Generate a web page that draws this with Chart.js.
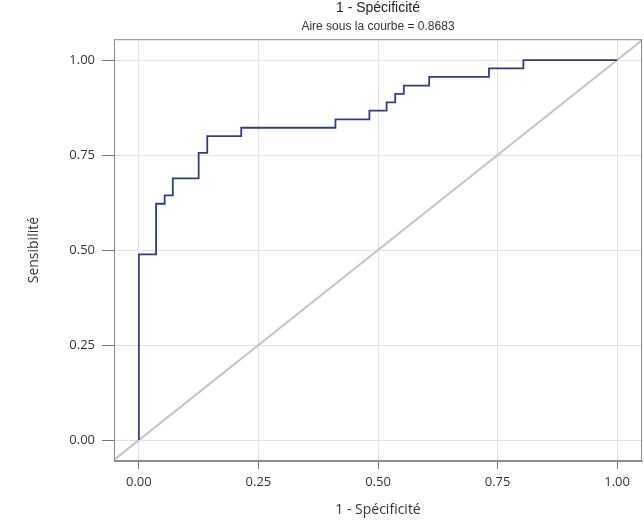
<!DOCTYPE html>
<html>
<head>
<meta charset="utf-8">
<script src="https://cdn.jsdelivr.net/npm/chart.js@4"></script>
<style>
  html, body { margin: 0; padding: 0; background: #fff; }
  #wrap { width: 644px; height: 520px; }
</style>
</head>
<body>
<div id="wrap"><canvas id="roc"></canvas></div>
<script>
// ROC curve points (1 - specificity, sensitivity)
const fpr = [0.000, 0.000, 0.036, 0.054, 0.071, 0.125, 0.143, 0.214, 0.411, 0.482, 0.518, 0.536, 0.554, 0.607, 0.732, 0.804, 1.000];
const tpr = [0.000, 0.489, 0.622, 0.644, 0.689, 0.756, 0.800, 0.822, 0.844, 0.867, 0.889, 0.911, 0.933, 0.956, 0.978, 1.000, 1.000];
const diagX = [-0.06, 1.06];
const tickVals = [0, 0.25, 0.5, 0.75, 1];
const titleText = '1 - Spécificité';
const subtitleText = 'Aire sous la courbe = 0.8683';

const frame = {
    id: 'frame',
    afterDraw(chart) {
        const a = chart.chartArea, ctx = chart.ctx;
        ctx.save();
        ctx.strokeStyle = '#8c8c8c';
        ctx.lineWidth = 1;
        ctx.strokeRect(a.left + 0.5, a.top + 0.5, a.right - a.left - 1, a.bottom - a.top - 1);
        ctx.restore();
    }
};

const fixTicks = axis => { axis.ticks = tickVals.map(v => ({ value: v })); };

const tickFont = { family: 'Open Sans', size: 13 };

new Chart('roc', {
    type: 'scatter',
    data: {
        datasets: [{
            data: fpr.map((x, i) => ({ x: x, y: tpr[i] })),
            showLine: true,
            stepped: true,
            borderColor: '#2e3f7c',
            borderWidth: 1.8,
            pointRadius: 0,
            fill: false
        }, {
            data: diagX.map(x => ({ x: x, y: x })),
            showLine: true,
            borderColor: '#c4c4c4',
            borderWidth: 2,
            pointRadius: 0,
            fill: false
        }]
    },
    options: {
        animation: false,
        responsive: true,
        maintainAspectRatio: false,
        layout: { padding: { left: 0, right: 2, top: 0, bottom: 0 } },
        plugins: {
            legend: { display: false },
            tooltip: { enabled: false },
            title: {
                display: true,
                text: titleText,
                fullSize: false,
                color: '#222',
                font: { family: 'Liberation Sans', size: 14, weight: 'normal' },
                padding: { top: 0, bottom: 0 }
            },
            subtitle: {
                display: true,
                text: subtitleText,
                fullSize: false,
                color: '#333',
                font: { family: 'Liberation Sans', size: 12 },
                padding: { top: 3, bottom: 5 }
            }
        },
        scales: {
            x: {
                type: 'linear',
                min: -0.052,
                max: 1.052,
                afterBuildTicks: fixTicks,
                afterFit: s => { s.height = 59; },
                grid: { color: '#e3e3e3', tickColor: '#777', tickLength: 8 },
                border: { display: true, color: '#8c8c8c' },
                ticks: { color: '#333', font: tickFont, padding: 5, callback: v => v.toFixed(2) },
                title: {
                    display: true,
                    text: '1 - Spécificité',
                    color: '#333',
                    font: { family: 'Open Sans', size: 14 },
                    padding: { top: 0, bottom: 2 }
                }
            },
            y: {
                type: 'linear',
                min: -0.055,
                max: 1.055,
                afterBuildTicks: fixTicks,
                afterFit: s => { s.width = 114; },
                grid: { color: '#e3e3e3', tickColor: '#777', tickLength: 12 },
                border: { display: true, color: '#8c8c8c' },
                ticks: { color: '#333', font: tickFont, padding: 7, callback: v => v.toFixed(2) },
                title: {
                    display: true,
                    text: 'Sensibilité',
                    color: '#333',
                    font: { family: 'Open Sans', size: 14 },
                    padding: { top: 26, bottom: 0 }
                }
            }
        }
    },
    plugins: [frame]
});
</script>
</body>
</html>
